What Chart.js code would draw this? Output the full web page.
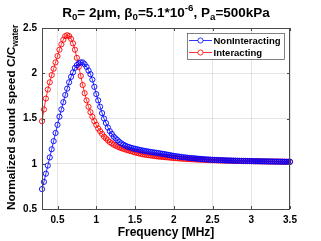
<!DOCTYPE html>
<html>
<head>
<meta charset="utf-8">
<script src="https://cdn.jsdelivr.net/npm/chart.js@4.4.0/dist/chart.umd.min.js"></script>
<style>
  html, body { margin: 0; padding: 0; background: #fff; }
  #wrap { width: 321px; height: 241px; }
</style>
</head>
<body>
<div id="wrap"><canvas id="c"></canvas></div>
<script>
// frequency grid [MHz]
const freq = [
  0.3, 0.325, 0.35, 0.375, 0.4, 0.425, 0.45, 0.475, 0.5, 0.525, 0.55, 0.575, 0.6, 0.625, 0.65, 0.675,
  0.7, 0.725, 0.75, 0.775, 0.8, 0.825, 0.85, 0.875, 0.9, 0.925, 0.95, 0.975, 1.0, 1.025, 1.05, 1.075,
  1.1, 1.125, 1.15, 1.175, 1.2, 1.225, 1.25, 1.275, 1.3, 1.325, 1.35, 1.375, 1.4, 1.425, 1.45, 1.475,
  1.5, 1.525, 1.55, 1.575, 1.6, 1.625, 1.65, 1.675, 1.7, 1.725, 1.75, 1.775, 1.8, 1.825, 1.85, 1.875,
  1.9, 1.925, 1.95, 1.975, 2.0, 2.025, 2.05, 2.075, 2.1, 2.125, 2.15, 2.175, 2.2, 2.225, 2.25, 2.275,
  2.3, 2.325, 2.35, 2.375, 2.4, 2.425, 2.45, 2.475, 2.5, 2.525, 2.55, 2.575, 2.6, 2.625, 2.65, 2.675,
  2.7, 2.725, 2.75, 2.775, 2.8, 2.825, 2.85, 2.875, 2.9, 2.925, 2.95, 2.975, 3.0, 3.025, 3.05, 3.075,
  3.1, 3.125, 3.15, 3.175, 3.2, 3.225, 3.25, 3.275, 3.3, 3.325, 3.35, 3.375, 3.4, 3.425, 3.45, 3.475,
  3.5
];

// normalized sound speed, non-interacting bubbles
const nonInteracting = [
  0.72, 0.80, 0.89, 0.98, 1.07, 1.16, 1.25, 1.34, 1.43, 1.52, 1.60, 1.68, 1.76, 1.83, 1.90, 1.96,
  2.01, 2.06, 2.09, 2.11, 2.12, 2.12, 2.10, 2.07, 2.03, 1.99, 1.93, 1.85, 1.77, 1.70, 1.63, 1.56,
  1.50, 1.45, 1.40, 1.36, 1.33, 1.30, 1.28, 1.26, 1.24, 1.225, 1.21, 1.20, 1.19, 1.183, 1.176, 1.17,
  1.165, 1.16, 1.155, 1.15, 1.146, 1.142, 1.138, 1.134, 1.130, 1.127, 1.124, 1.121, 1.118, 1.114, 1.110, 1.107,
  1.103, 1.099, 1.095, 1.091, 1.087, 1.084, 1.081, 1.078, 1.075, 1.072, 1.070, 1.067, 1.065, 1.063, 1.061, 1.059,
  1.057, 1.055, 1.053, 1.051, 1.049, 1.048, 1.047, 1.045, 1.044, 1.043, 1.042, 1.041, 1.040, 1.039, 1.038, 1.037,
  1.036, 1.036, 1.035, 1.034, 1.034, 1.033, 1.032, 1.032, 1.031, 1.031, 1.030, 1.030, 1.029, 1.029, 1.028, 1.028,
  1.027, 1.027, 1.026, 1.026, 1.026, 1.025, 1.025, 1.025, 1.024, 1.024, 1.024, 1.023, 1.023, 1.023, 1.022, 1.022,
  1.022
];

// normalized sound speed, interacting bubbles
const interacting = [
  1.47, 1.60, 1.72, 1.82, 1.90, 1.98, 2.05, 2.12, 2.19, 2.26, 2.32, 2.37, 2.41, 2.42, 2.41, 2.38,
  2.33, 2.26, 2.17, 2.07, 1.97, 1.87, 1.78, 1.70, 1.63, 1.57, 1.52, 1.47, 1.43, 1.39, 1.36, 1.33,
  1.30, 1.28, 1.26, 1.24, 1.225, 1.21, 1.20, 1.19, 1.18, 1.172, 1.165, 1.158, 1.151, 1.145, 1.140, 1.132,
  1.125, 1.120, 1.115, 1.110, 1.105, 1.101, 1.098, 1.095, 1.092, 1.089, 1.086, 1.083, 1.080, 1.078, 1.076, 1.074,
  1.072, 1.070, 1.068, 1.066, 1.064, 1.062, 1.060, 1.058, 1.057, 1.055, 1.054, 1.052, 1.051, 1.050, 1.049, 1.048,
  1.047, 1.046, 1.045, 1.044, 1.043, 1.042, 1.041, 1.040, 1.039, 1.039, 1.038, 1.037, 1.036, 1.036, 1.035, 1.035,
  1.034, 1.034, 1.033, 1.033, 1.032, 1.032, 1.031, 1.031, 1.030, 1.030, 1.029, 1.029, 1.028, 1.028, 1.027, 1.027,
  1.027, 1.026, 1.026, 1.026, 1.025, 1.025, 1.025, 1.024, 1.024, 1.024, 1.023, 1.023, 1.023, 1.022, 1.022, 1.022,
  1.021
];

const xTicks = [0.5, 1, 1.5, 2, 2.5, 3, 3.5];
const yTicks = [0.5, 1, 1.5, 2, 2.5];
const seriesNames = ['NonInteracting', 'Interacting'];
const seriesColors = ['#0000ff', '#ff0000'];

const FONT = "'Liberation Sans', Arial, sans-serif";

// draws a run of text pieces with sub/superscripts, returns width
function richText(ctx, parts, x, y, size, draw) {
    let cx = x;
    parts.forEach(p => {
        const s = p.sub || p.sup ? size * 0.72 : size;
        ctx.font = 'bold ' + s + 'px ' + FONT;
        const dy = p.sub ? size * 0.3 : (p.sup ? -size * 0.38 : 0);
        if (draw) ctx.fillText(p.t, cx, y + dy);
        cx += ctx.measureText(p.t).width;
    });
    return cx - x;
}

const decorPlugin = {
    id: 'decor',
    afterDraw(chart) {
        const ctx = chart.ctx;
        const a = chart.chartArea;
        const xs = chart.scales.x, ys = chart.scales.y;
        ctx.save();

        // axes box + inward ticks
        ctx.strokeStyle = '#4a4a4a';
        ctx.lineWidth = 1;
        ctx.strokeRect(a.left + 0.5, a.top + 0.5, a.right - a.left - 1, a.bottom - a.top);
        ctx.beginPath();
        xTicks.forEach(v => {
            const px = Math.round(xs.getPixelForValue(v)) + 0.5;
            ctx.moveTo(px, a.bottom); ctx.lineTo(px, a.bottom - 3);
            ctx.moveTo(px, a.top); ctx.lineTo(px, a.top + 3);
        });
        yTicks.forEach(v => {
            const py = Math.round(ys.getPixelForValue(v)) + 0.5;
            ctx.moveTo(a.left, py); ctx.lineTo(a.left + 3, py);
            ctx.moveTo(a.right, py); ctx.lineTo(a.right - 3, py);
        });
        ctx.stroke();

        ctx.fillStyle = '#000';
        ctx.textBaseline = 'middle';
        ctx.textAlign = 'left';

        // title
        const title = [
            { t: 'R' }, { t: '0', sub: true }, { t: '= 2' }, { t: '\u03bc' }, { t: 'm, ' },
            { t: '\u03b2' }, { t: '0', sub: true }, { t: '=5.1*10' }, { t: '-6', sup: true },
            { t: ', P' }, { t: 'a', sub: true }, { t: '=500kPa' }
        ];
        const tw = richText(ctx, title, 0, 0, 13.5, false);
        richText(ctx, title, (a.left + a.right) / 2 - tw / 2, 13, 13.5, true);

        // x label
        ctx.font = 'bold 12px ' + FONT;
        ctx.textAlign = 'center';
        ctx.fillText('Frequency [MHz]', (a.left + a.right) / 2, 233);

        // y label (rotated)
        ctx.save();
        ctx.translate(12, 210);
        ctx.rotate(-Math.PI / 2);
        ctx.textAlign = 'left';
        richText(ctx, [{ t: 'Normalized sound speed C/C' }, { t: 'water', sub: true }], 0, 0, 11.8, true);
        ctx.restore();

        // legend
        const lx = 187, ly = 33, lw = 97, lh = 26;
        ctx.fillStyle = '#fff';
        ctx.fillRect(lx, ly, lw, lh);
        ctx.strokeStyle = '#4a4a4a';
        ctx.lineWidth = 0.7;
        ctx.strokeRect(lx + 0.5, ly + 0.5, lw, lh);
        seriesNames.forEach((name, i) => {
            const yy = ly + 7.5 + i * 12;
            ctx.strokeStyle = seriesColors[i];
            ctx.lineWidth = 0.8;
            ctx.beginPath();
            ctx.moveTo(lx + 2, yy); ctx.lineTo(lx + 25, yy);
            ctx.stroke();
            ctx.beginPath();
            ctx.arc(lx + 13.5, yy, 2.6, 0, Math.PI * 2);
            ctx.fillStyle = '#fff';
            ctx.fill();
            ctx.stroke();
            ctx.fillStyle = '#000';
            ctx.font = 'bold 9.5px ' + FONT;
            ctx.textAlign = 'left';
            ctx.fillText(name, lx + 26.5, yy + 0.5);
        });
        ctx.restore();
    }
};

const makeSet = (vals, i) => ({
    label: seriesNames[i],
    data: freq.map((f, k) => ({ x: f, y: vals[k] })),
    borderColor: seriesColors[i],
    borderWidth: 0.8,
    backgroundColor: 'transparent',
    pointRadius: 2.6,
    pointBorderWidth: 0.9,
    pointBorderColor: seriesColors[i],
    pointBackgroundColor: 'transparent',
    tension: 0,
    clip: 5
});

new Chart(document.getElementById('c').getContext('2d'), {
    type: 'line',
    data: { datasets: [makeSet(nonInteracting, 0), makeSet(interacting, 1)] },
    options: {
        responsive: true,
        maintainAspectRatio: false,
        animation: false,
        layout: { padding: { left: 0, right: 31, top: 28, bottom: 0 } },
        plugins: { legend: { display: false }, tooltip: { enabled: false } },
        scales: {
            x: {
                type: 'linear', min: 0.3, max: 3.5,
                afterBuildTicks: s => { s.ticks = xTicks.map(v => ({ value: v })); },
                afterFit: s => { s.height = 32; },
                grid: { color: 'rgba(38,38,38,0.12)', drawTicks: false },
                border: { display: false },
                ticks: { color: '#000', padding: 5, maxRotation: 0, font: { family: FONT, size: 10, weight: 'bold' },
                    callback: v => String(v) }
            },
            y: {
                min: 0.5, max: 2.5,
                afterBuildTicks: s => { s.ticks = yTicks.map(v => ({ value: v })); },
                afterFit: s => { s.width = 42; },
                grid: { color: 'rgba(38,38,38,0.12)', drawTicks: false },
                border: { display: false },
                ticks: { color: '#000', padding: 5, font: { family: FONT, size: 10, weight: 'bold' },
                    callback: v => String(v) }
            }
        }
    },
    plugins: [decorPlugin]
});
</script>
</body>
</html>
